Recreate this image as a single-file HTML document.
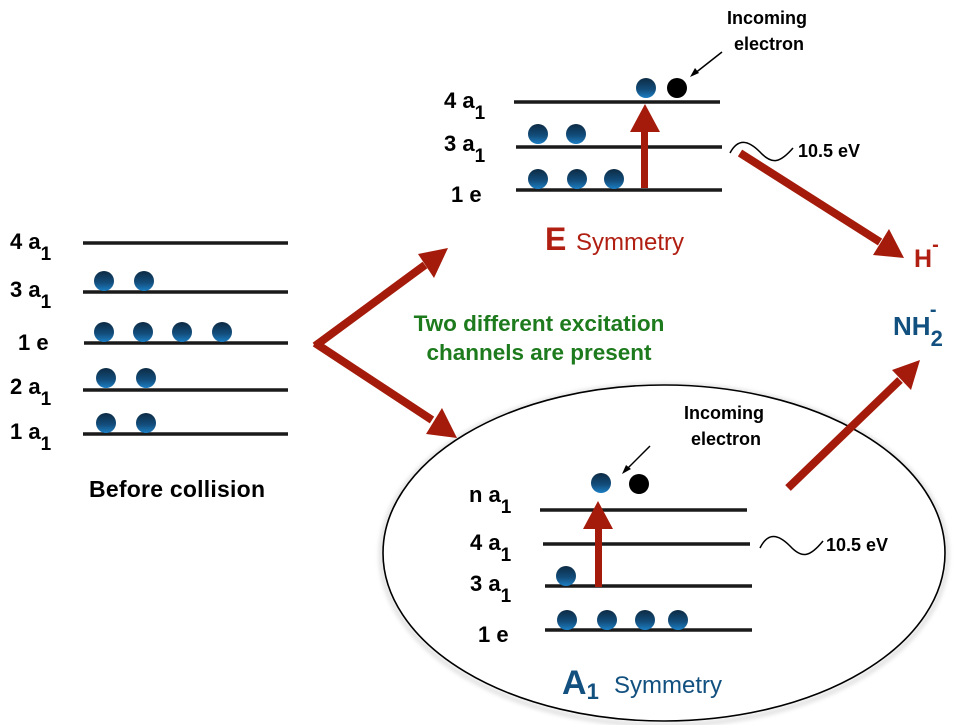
<!DOCTYPE html>
<html><head><meta charset="utf-8"><style>
html,body{margin:0;padding:0;background:#fff;}
svg{display:block;font-family:"Liberation Sans",sans-serif;font-weight:bold;}
</style></head><body>
<svg width="963" height="725" viewBox="0 0 963 725" xmlns="http://www.w3.org/2000/svg">
<defs>
<linearGradient id="g" x1="0" y1="0" x2="0" y2="1">
<stop offset="0" stop-color="#0c2a42"/><stop offset="0.6" stop-color="#134f7e"/><stop offset="1" stop-color="#1b7fc4"/>
</linearGradient>
<filter id="sh" x="-10%" y="-10%" width="120%" height="120%"><feGaussianBlur stdDeviation="2"/></filter>
</defs>

<ellipse cx="664" cy="555" rx="283" ry="170" fill="none" stroke="#ddd" stroke-width="4" filter="url(#sh)"/>
<ellipse cx="664" cy="553" rx="281" ry="168" fill="#fff" stroke="#000" stroke-width="1.6"/>

<g stroke="#1a1a1a" stroke-width="3.5">
<line x1="83" y1="243" x2="288" y2="243"/>
<line x1="83" y1="292" x2="288" y2="292"/>
<line x1="84" y1="343" x2="288" y2="343"/>
<line x1="83" y1="390" x2="288" y2="390"/>
<line x1="83" y1="434" x2="288" y2="434"/>
<line x1="514" y1="102" x2="720" y2="102"/>
<line x1="516" y1="147" x2="722" y2="147"/>
<line x1="516" y1="190" x2="722" y2="190"/>
<line x1="540" y1="510" x2="747" y2="510"/>
<line x1="543" y1="544" x2="750" y2="544"/>
<line x1="545" y1="586" x2="752" y2="586"/>
<line x1="545" y1="630" x2="752" y2="630"/>
</g>

<g fill="url(#g)">
<circle cx="104" cy="281" r="10"/><circle cx="144" cy="281" r="10"/>
<circle cx="104" cy="332" r="10"/><circle cx="143" cy="332" r="10"/><circle cx="182" cy="332" r="10"/><circle cx="222" cy="332" r="10"/>
<circle cx="106" cy="378" r="10"/><circle cx="146" cy="378" r="10"/>
<circle cx="106" cy="423" r="10"/><circle cx="146" cy="423" r="10"/>
<circle cx="646" cy="88" r="10"/>
<circle cx="538" cy="134" r="10"/><circle cx="576" cy="134" r="10"/>
<circle cx="538" cy="179" r="10"/><circle cx="577" cy="179" r="10"/><circle cx="614" cy="179" r="10"/>
<circle cx="601" cy="483" r="10"/>
<circle cx="566" cy="576" r="10"/>
<circle cx="567" cy="620" r="10"/><circle cx="607" cy="620" r="10"/><circle cx="645" cy="620" r="10"/><circle cx="678" cy="620" r="10"/>
</g>
<circle cx="677" cy="88" r="10" fill="#000"/>
<circle cx="639" cy="484" r="10" fill="#000"/>

<g fill="#a51b0b" stroke="none">
<rect x="641" y="130" width="7" height="58"/>
<polygon points="645,104 630,132 660,132"/>
<rect x="595" y="525" width="7" height="62"/>
<polygon points="598,501 583,529 613,529"/>
</g>
<g stroke="#a51b0b" stroke-width="8" stroke-linecap="butt">
<line x1="315" y1="346" x2="425" y2="265"/>
<line x1="315" y1="343" x2="432" y2="420"/>
<line x1="740" y1="153" x2="880" y2="242"/>
<line x1="788" y1="488" x2="900" y2="380"/>
</g>
<g fill="#a51b0b">
<polygon points="448,248 418,254 434,278"/>
<polygon points="457,438 426,434 442,408"/>
<polygon points="904,258 873,255 889,229"/>
<polygon points="920,360 892,370 911,390"/>
</g>

<g stroke="#000" stroke-width="1.5" fill="none">
<line x1="722" y1="52" x2="694" y2="74"/>
<line x1="650" y1="446" x2="626" y2="470"/>
</g>
<polygon points="690,77 695,68 699,73" fill="#000"/>
<polygon points="622,474 626,465 631,469" fill="#000"/>

<path d="M730,153 C738,138 748,140 760,152 C772,165 780,163 793,148" stroke="#000" stroke-width="1.5" fill="none"/>
<path d="M760,548 C768,532 778,534 790,546 C802,559 810,557 823,541" stroke="#000" stroke-width="1.5" fill="none"/>

<g fill="#000" font-size="22">
<text x="10" y="249">4 a<tspan font-size="19" dy="11">1</tspan></text>
<text x="10" y="297">3 a<tspan font-size="19" dy="11">1</tspan></text>
<text x="18" y="350">1 e</text>
<text x="10" y="394">2 a<tspan font-size="19" dy="11">1</tspan></text>
<text x="10" y="439">1 a<tspan font-size="19" dy="11">1</tspan></text>

<text x="444" y="108">4 a<tspan font-size="19" dy="11">1</tspan></text>
<text x="444" y="151">3 a<tspan font-size="19" dy="11">1</tspan></text>
<text x="451" y="202">1 e</text>

<text x="469" y="502">n a<tspan font-size="19" dy="11">1</tspan></text>
<text x="470" y="550">4 a<tspan font-size="19" dy="11">1</tspan></text>
<text x="470" y="591">3 a<tspan font-size="19" dy="11">1</tspan></text>
<text x="478" y="642">1 e</text>
</g>
<text x="89" y="497" fill="#000" font-size="23" textLength="176">Before collision</text>
<g fill="#000" font-size="18">
<text x="727" y="24">Incoming</text>
<text x="734" y="50">electron</text>
<text x="684" y="419">Incoming</text>
<text x="691" y="445">electron</text>
<text x="798" y="157">10.5 eV</text>
<text x="826" y="551">10.5 eV</text>
</g>
<g fill="#1d7a1d" font-size="22.5" text-anchor="middle">
<text x="539" y="331">Two different excitation</text>
<text x="539" y="360">channels are present</text>
</g>
<text x="545" y="250" fill="#b01f12" font-size="32">E</text>
<text x="576" y="250" fill="#b01f12" font-size="24" font-weight="normal">Symmetry</text>
<text x="914" y="267" fill="#b01f12" font-size="25">H<tspan dy="-16" font-size="20">-</tspan></text>
<text x="893" y="335" fill="#12507f" font-size="26">NH<tspan dy="11" font-size="22">2</tspan><tspan dx="-13" dy="-30" font-size="20">-</tspan></text>
<text x="562" y="694" fill="#12507f" font-size="34">A<tspan font-size="22" dy="5">1</tspan></text>
<text x="614" y="693" fill="#12507f" font-size="24" font-weight="normal">Symmetry</text>
</svg>
</body></html>
